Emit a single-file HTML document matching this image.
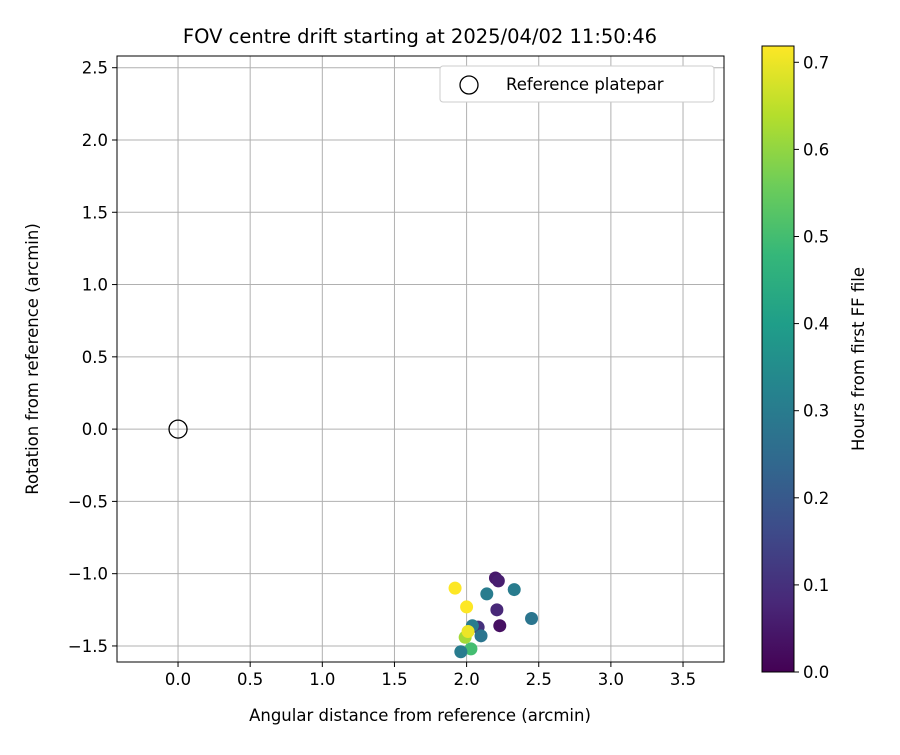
<!DOCTYPE html>
<html><head><meta charset="utf-8"><style>
body{margin:0;background:#fff;font-family:"Liberation Sans","DejaVu Sans",sans-serif;}
svg text{font-family:"DejaVu Sans","Liberation Sans",sans-serif;fill:#000}
</style></head><body>
<svg id="chart" width="900" height="750" xmlns="http://www.w3.org/2000/svg"></svg>
<script>
const xValues=[1.92,2.20,2.22,2.14,2.33,2.00,2.21,2.45,2.23,2.08,2.04,2.10,1.99,2.01,2.03,1.96];
const yValues=[-1.10,-1.03,-1.05,-1.14,-1.11,-1.23,-1.25,-1.31,-1.36,-1.37,-1.36,-1.43,-1.44,-1.40,-1.52,-1.54];
const hourValues=[0.72,0.05,0.06,0.30,0.30,0.72,0.08,0.28,0.03,0.10,0.30,0.28,0.62,0.70,0.50,0.30];
const xTicks=[0,0.5,1,1.5,2,2.5,3,3.5];
const yTicks=[-1.5,-1,-0.5,0,0.5,1,1.5,2,2.5];
const cTicks=[0,0.1,0.2,0.3,0.4,0.5,0.6,0.7];
const refPoint=[0,0];
const NS="http://www.w3.org/2000/svg";
const svg=document.getElementById('chart');
const L=117,R=724,T=56,B=662;
const xMin=-0.423,xMax=3.784,yMin=-1.611,yMax=2.581;
const sx=v=>L+(v-xMin)/(xMax-xMin)*(R-L);
const sy=v=>B-(v-yMin)/(yMax-yMin)*(B-T);
const CL=762,CR=794,CT=46,CB=672,cMax=0.7187;
const sc=v=>CB-v/cMax*(CB-CT);
const FS=16.5;
function mk(tag,a,p){const e=document.createElementNS(NS,tag);for(const k in a)e.setAttribute(k,a[k]);(p||svg).appendChild(e);return e;}
const vir=[[68,1,84],[72,40,120],[62,74,137],[49,104,142],[38,130,142],[31,158,137],[53,183,121],[109,205,89],[180,222,44],[253,231,37]];
function viridis(t){t=Math.max(0,Math.min(1,t))*(vir.length-1);const i=Math.min(vir.length-2,Math.floor(t)),f=t-i;const c=vir[i].map((v,k)=>Math.round(v+(vir[i+1][k]-v)*f));return `rgb(${c})`;}
xTicks.forEach(v=>{const l=mk('line',{x1:sx(v),x2:sx(v),y1:T,y2:B,stroke:'#b0b0b0','stroke-width':1});


mk('line',{x1:sx(v),x2:sx(v),y1:B,y2:B+5,stroke:'#000'});
const tx=mk('text',{x:sx(v),y:B+23,'text-anchor':'middle','font-size':FS});tx.textContent=v.toFixed(1);

});
yTicks.forEach(v=>{const l=mk('line',{x1:L,x2:R,y1:sy(v),y2:sy(v),stroke:'#b0b0b0','stroke-width':1});


mk('line',{x1:L-5,x2:L,y1:sy(v),y2:sy(v),stroke:'#000'});
const tx=mk('text',{x:L-9,y:sy(v)+6,'text-anchor':'end','font-size':FS});tx.textContent=(v<0?'\u2212':'')+Math.abs(v).toFixed(1);

});
const rc=mk('circle',{cx:sx(refPoint[0]),cy:sy(refPoint[1]),r:9,fill:'none',stroke:'#000','stroke-width':1.3});


xValues.forEach((x,i)=>{const c=mk('circle',{cx:sx(x),cy:sy(yValues[i]),r:6.5,fill:viridis(hourValues[i]/cMax)});

});
const fr=mk('rect',{x:L,y:T,width:R-L,height:B-T,fill:'none',stroke:'#000','stroke-width':1});


const lg=mk('g',{});


mk('rect',{x:440,y:66,width:274,height:36,rx:3,fill:'#fff',stroke:'#ccc'},lg);
mk('circle',{cx:469,cy:85,r:9,fill:'none',stroke:'#000','stroke-width':1.3},lg);
const lt=mk('text',{x:506,y:90,'font-size':FS},lg);lt.textContent='Reference platepar';
const tt=mk('text',{x:420,y:43,'text-anchor':'middle','font-size':19.5});tt.textContent='FOV centre drift starting at 2025/04/02 11:50:46';


const xt=mk('text',{x:420,y:721,'text-anchor':'middle','font-size':FS});xt.textContent='Angular distance from reference (arcmin)';


const yt=mk('text',{x:0,y:0,'text-anchor':'middle','font-size':FS,transform:`translate(38,${(T+B)/2}) rotate(-90)`});yt.textContent='Rotation from reference (arcmin)';


const defs=mk('defs',{});const gr=mk('linearGradient',{id:'vg',x1:0,y1:1,x2:0,y2:0},defs);
vir.forEach((c,i)=>mk('stop',{offset:i/(vir.length-1),'stop-color':`rgb(${c})`},gr));
const cb=mk('rect',{x:CL,y:CT,width:CR-CL,height:CB-CT,fill:'url(#vg)',stroke:'#000','stroke-width':1});


cTicks.forEach(v=>{mk('line',{x1:CR,x2:CR+5,y1:sc(v),y2:sc(v),stroke:'#000'});
const tx=mk('text',{x:CR+9,y:sc(v)+6,'font-size':FS});tx.textContent=v.toFixed(1);

});
const ct=mk('text',{x:0,y:0,'text-anchor':'middle','font-size':FS,transform:`translate(864,${(CT+CB)/2}) rotate(-90)`});ct.textContent='Hours from first FF file';


</script>
</body></html>
